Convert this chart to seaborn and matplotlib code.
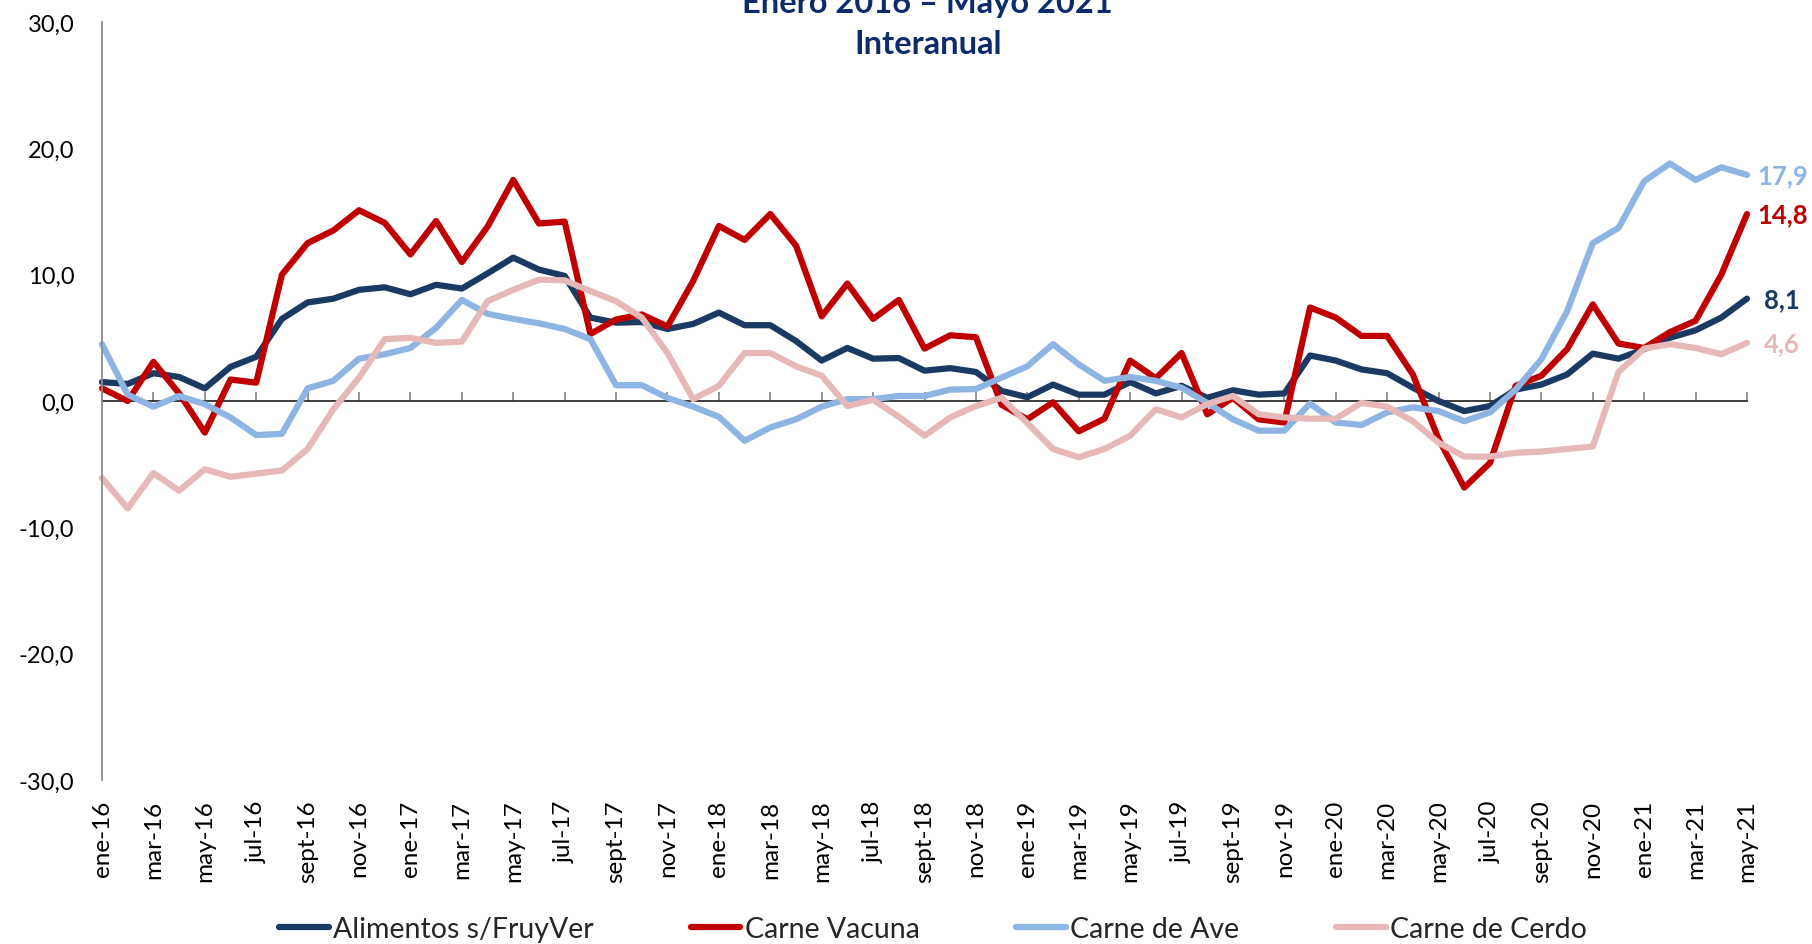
import numpy as np
import pandas as pd
import matplotlib
matplotlib.use("Agg")
import matplotlib.pyplot as plt
import seaborn as sns

# ---------------- data ----------------
meses = ["ene", "feb", "mar", "abr", "may", "jun", "jul", "ago", "sept", "oct", "nov", "dic"]
anios = ["16", "17", "18", "19", "20", "21"]
periodos = [f"{m}-{a}" for a in anios for m in meses][:65]

alimentos = [1.5, 1.35, 2.2, 1.9, 1.0, 2.7, 3.5, 6.5, 7.8, 8.1, 8.8, 9.0, 8.45, 9.2, 8.9, 10.1,
             11.35, 10.4, 9.9, 6.6, 6.2, 6.25, 5.7, 6.1, 7.0, 6.0, 6.0, 4.75, 3.2, 4.2, 3.35, 3.4,
             2.4, 2.6, 2.3, 0.8, 0.3, 1.3, 0.5, 0.5, 1.5, 0.6, 1.2, 0.25, 0.85, 0.5, 0.6, 3.6,
             3.2, 2.5, 2.2, 1.05, 0.0, -0.8, -0.4, 0.9, 1.3, 2.1, 3.75, 3.35, 4.1, 5.0, 5.6, 6.6, 8.1]
vacuna = [1.0, 0.0, 3.1, 0.6, -2.5, 1.7, 1.45, 10.0, 12.5, 13.5, 15.1, 14.1, 11.6, 14.25, 11.0, 13.8,
          17.5, 14.05, 14.2, 5.3, 6.45, 6.85, 5.9, 9.5, 13.85, 12.75, 14.8, 12.3, 6.7, 9.3, 6.5, 8.0,
          4.15, 5.2, 5.05, -0.3, -1.45, -0.1, -2.4, -1.4, 3.2, 1.8, 3.8, -1.05, 0.25, -1.45, -1.7, 7.4,
          6.6, 5.15, 5.15, 2.1, -3.0, -6.85, -4.9, 1.2, 2.0, 4.1, 7.65, 4.55, 4.2, 5.45, 6.35, 10.0, 14.8]
ave = [4.5, 0.5, -0.45, 0.4, -0.25, -1.3, -2.7, -2.6, 1.0, 1.6, 3.35, 3.7, 4.2, 5.8, 8.0, 6.9,
       6.5, 6.15, 5.7, 4.9, 1.25, 1.25, 0.25, -0.45, -1.25, -3.15, -2.1, -1.45, -0.45, 0.15, 0.15, 0.4,
       0.4, 0.9, 0.95, 1.85, 2.75, 4.5, 2.9, 1.6, 1.9, 1.6, 1.05, -0.15, -1.45, -2.35, -2.35, -0.2,
       -1.7, -1.9, -0.9, -0.5, -0.8, -1.6, -0.9, 0.9, 3.3, 7.1, 12.5, 13.7, 17.4, 18.8, 17.5, 18.5, 17.9]
cerdo = [-6.1, -8.5, -5.7, -7.1, -5.4, -6.0, -5.75, -5.5, -3.8, -0.65, 1.85, 4.9, 5.0, 4.6, 4.7, 7.9,
         8.8, 9.6, 9.55, 8.7, 7.9, 6.6, 3.8, 0.15, 1.2, 3.8, 3.8, 2.75, 2.0, -0.4, 0.1, -1.25,
         -2.75, -1.3, -0.4, 0.25, -1.75, -3.8, -4.45, -3.8, -2.75, -0.65, -1.3, -0.25, 0.4, -1.05, -1.3, -1.4,
         -1.4, -0.15, -0.45, -1.6, -3.3, -4.4, -4.4, -4.1, -4.0, -3.8, -3.6, 2.3, 4.15, 4.5, 4.2, 3.7, 4.6]

series = ["Alimentos s/FruyVer", "Carne Vacuna", "Carne de Ave", "Carne de Cerdo"]
colores = ["#1B3A63", "#C00000", "#8DB4E2", "#E6B9B8"]
titulo = ["Enero 2016 \u2013 Mayo 2021", "Interanual"]

# ---------------- figure ----------------
sns.set_theme(style="white")
plt.rcParams["font.family"] = ["Lato", "DejaVu Sans"]

fig = plt.figure(figsize=(18.12, 9.45), dpi=100)
ax = fig.add_axes([102 / 1812, 1 - 781 / 945, (1747 - 102) / 1812, (781 - 23) / 945])

valores = [alimentos, vacuna, ave, cerdo]
df = pd.concat([pd.DataFrame({"idx": np.arange(len(v)), "valor": v, "serie": s})
                for s, v in zip(series, valores)], ignore_index=True)

sns.lineplot(data=df, x="idx", y="valor", hue="serie", hue_order=series,
             palette=dict(zip(series, colores)), linewidth=4.5, ax=ax, legend=False)
for ln in ax.lines:
    ln.set_clip_on(False)
    ln.set_solid_joinstyle("round")

ax.set_xlim(0, 64)
ax.set_ylim(-30, 30)
gris = "#8C8C8C"

# y axis
yt = np.arange(-30, 31, 10)
ax.set_yticks(yt)
ax.set_yticklabels([f"{v:.1f}".replace(".", ",") for v in yt])
ax.tick_params(axis="y", length=0, pad=20, labelsize=17, labelcolor="black")
for sp in ["top", "right", "bottom"]:
    ax.spines[sp].set_visible(False)
ax.spines["left"].set_color(gris)
ax.spines["left"].set_linewidth(1.3)

# x labels at the bottom
pos = list(range(0, 65, 2))
ax.set_xticks(pos)
ax.set_xticklabels([periodos[i] for i in pos], rotation=90, va="top", ha="center")
ax.tick_params(axis="x", length=0, pad=14, labelsize=17.5, labelcolor="black")
ax.set_xlabel("")
ax.set_ylabel("")

# zero axis with tick marks
sec = ax.secondary_xaxis(0.5)
sec.set_xticks(pos)
sec.tick_params(axis="x", direction="out", length=6.5, width=1.3, color=gris,
                labelbottom=False, labeltop=False)
sec.spines["bottom"].set_color(gris)
sec.spines["bottom"].set_linewidth(1.3)
sec.set_zorder(0)

# end labels
desplaz = [12, 7.5, 7.5, 12]
for k in range(4):
    v = valores[k][-1]
    ax.annotate(f"{v:.1f}".replace(".", ","), xy=(64, v), xytext=(desplaz[k], 0),
                textcoords="offset points", va="center", ha="left",
                fontsize=18.5, fontweight="bold", color=colores[k], annotation_clip=False)

# legend
handles = [plt.Line2D([0], [0], color=c, linewidth=4.5, solid_capstyle="round") for c in colores]
fig.legend(handles, series, loc="center", bbox_to_anchor=(0.515, 1 - 930 / 945), ncol=4,
           frameon=False, fontsize=20.5, handlelength=1.75, handletextpad=0.15,
           columnspacing=3.4)

# title
fig.text(0.512, 1 - 4 / 945, titulo[0], ha="center", va="center", fontsize=23.5,
         fontweight="bold", color="#0D2B6B")
fig.text(0.512, 1 - 45 / 945, titulo[1], ha="center", va="center", fontsize=23.5,
         fontweight="bold", color="#0D2B6B")

fig.savefig("out.png", dpi=100)
